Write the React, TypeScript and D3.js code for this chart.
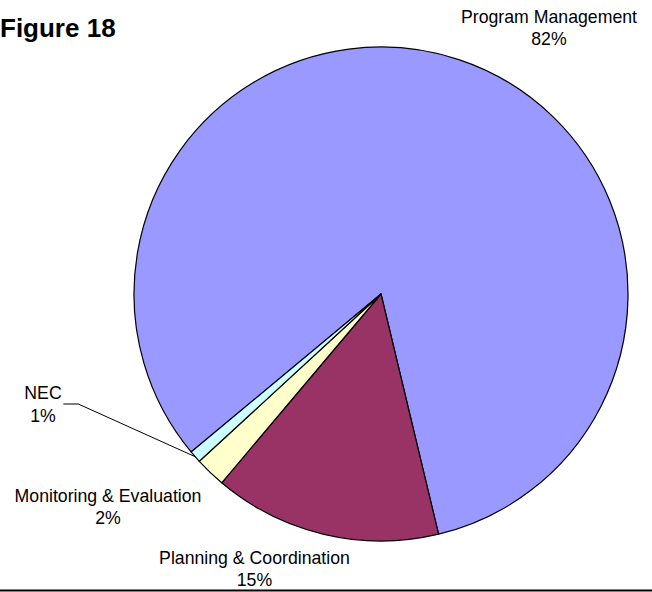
import React from "react";
import * as d3 from "d3";

const categories = ["Program Management", "Planning & Coordination", "Monitoring & Evaluation", "NEC"];
const values = [82.3, 14.9, 2.0, 0.8];
const colors = ["#9999FF", "#993366", "#FFFFCC", "#CCFFFF"];
const title = "Figure 18";

// label anchor positions (center x, first baseline y)
const labelPos: [number, number][] = [
  [549, 22.7],
  [254.5, 564],
  [108, 501.7],
  [43, 399.3],
];

export default function App() {
  const W = 652, H = 592;
  const cx = 381, cy = 294, r = 247;
  const start = (230.24 * Math.PI) / 180;
  const total = d3.sum(values);
  const pie = d3.pie<number>().sort(null).value((d) => d).startAngle(start).endAngle(start + 2 * Math.PI);
  const arcs = pie(values);
  const arc = d3.arc<d3.PieArcDatum<number>>().innerRadius(0).outerRadius(r);
  const font = "'Liberation Sans', Arial, sans-serif";

  // leader for NEC
  const nec = arcs[3];
  const mid = (nec.startAngle + nec.endAngle) / 2;
  const ex = cx + r * Math.sin(mid);
  const ey = cy - r * Math.cos(mid);

  return (
    <svg width={W} height={H} style={{ position: "absolute", left: 0, top: 0 }}>
      <rect width={W} height={H} fill="#fff" />
      <text x={0} y={36.7} fontFamily={font} fontWeight="bold" fontSize={26} fill="#000">
        {title}
      </text>
      <g transform={`translate(${cx},${cy})`}>
        {arcs.map((a, i) => (
          <path key={i} d={arc(a) || ""} fill={colors[i]} stroke="#000" strokeWidth={1.2} strokeLinejoin="round" />
        ))}
      </g>
      <polyline
        points={`63.3,404 78.3,404 ${ex},${ey}`}
        fill="none"
        stroke="#000"
        strokeWidth={1}
      />
      {categories.map((c, i) => (
        <text key={c} x={labelPos[i][0]} y={labelPos[i][1]} textAnchor="middle" fontFamily={font} fontSize={17.7} fill="#000">
          <tspan x={labelPos[i][0]}>{c}</tspan>
          <tspan x={labelPos[i][0]} dy={22.3}>{Math.round((values[i] / total) * 100)}%</tspan>
        </text>
      ))}
      <line x1={0} x2={W} y1={590.5} y2={590.5} stroke="#000" strokeWidth={2} />
    </svg>
  );
}
